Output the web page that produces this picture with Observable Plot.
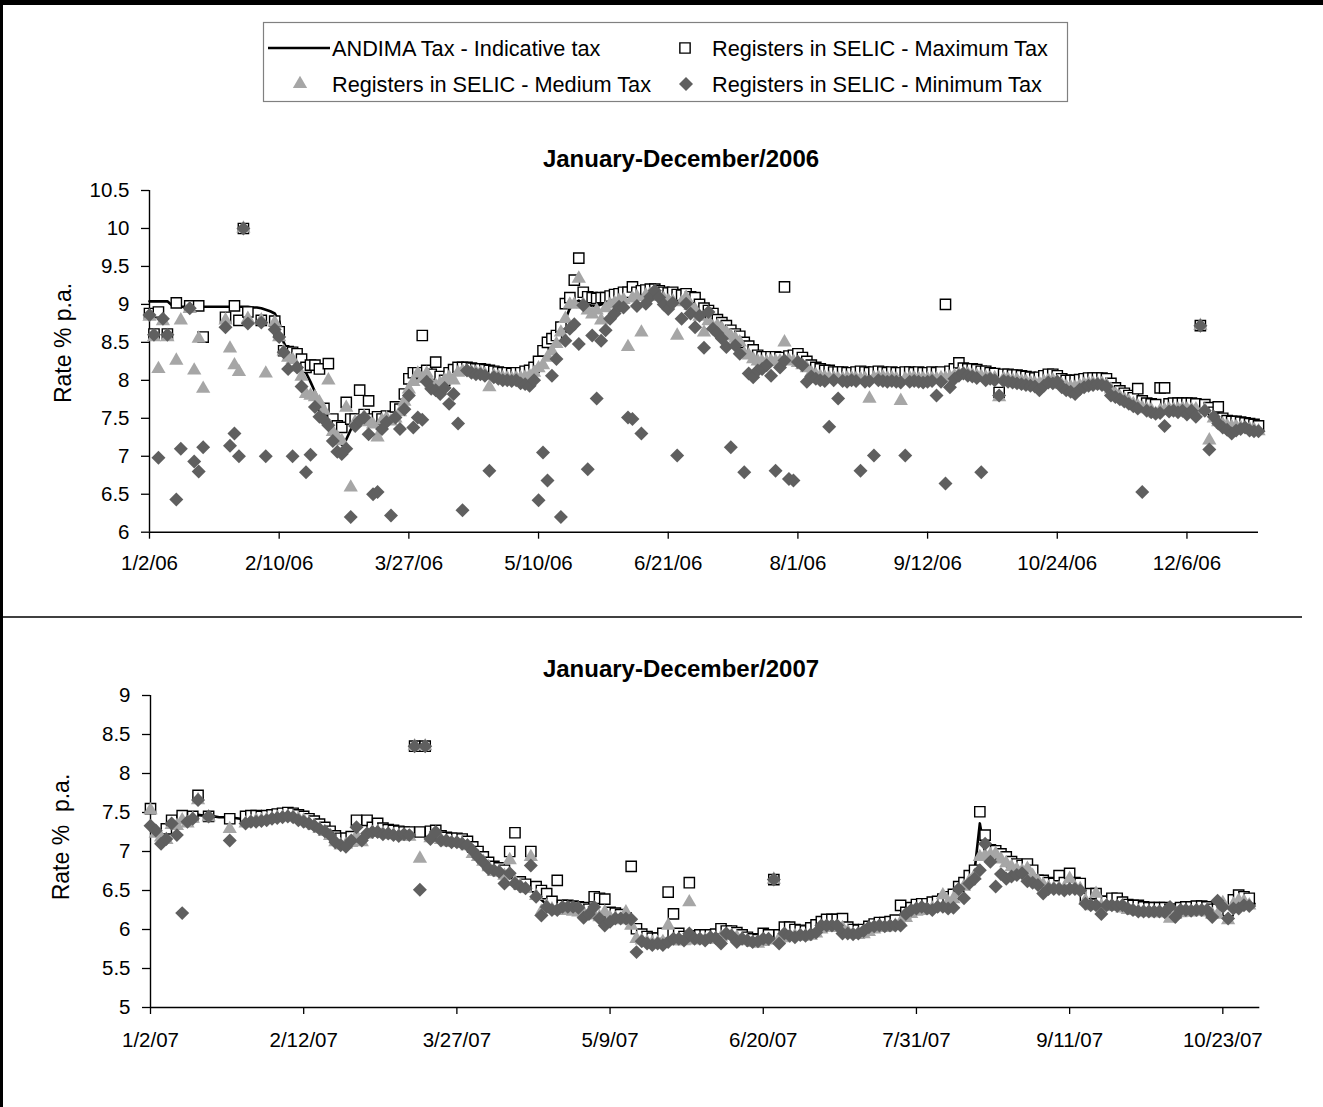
<!DOCTYPE html>
<html><head><meta charset="utf-8">
<script src="https://cdn.jsdelivr.net/npm/d3@7"></script>
<script src="https://cdn.jsdelivr.net/npm/@observablehq/plot@0.6"></script>
<style>
body{margin:0;background:#fff;}
#page{position:relative;width:1323px;height:1107px;overflow:hidden;background:#fff;font-family:"Liberation Sans",Arial,sans-serif;}
</style></head>
<body><div id="page"></div>
<script>
// ---------- DATA ----------
const tickStep = 29; // trading days between labelled ticks
const xLabels2006 = ["1/2/06","2/10/06","3/27/06","5/10/06","6/21/06","8/1/06","9/12/06","10/24/06","12/6/06"];
const xLabels2007 = ["1/2/07","2/12/07","3/27/07","5/9/07","6/20/07","7/31/07","9/11/07","10/23/07"];
const yTicks2006 = [6,6.5,7,7.5,8,8.5,9,9.5,10,10.5];
const yTicks2007 = [5,5.5,6,6.5,7,7.5,8,8.5,9];
const seriesNames = ["ANDIMA Tax - Indicative tax","Registers in SELIC - Maximum Tax","Registers in SELIC - Medium Tax","Registers in SELIC - Minimum Tax"];
const titles = ["January-December/2006","January-December/2007"];

const andima2006 = [
9.04,9.04,9.04,9.04,9.04,8.99,8.97,8.97,8.97,8.97,
8.97,8.97,8.97,8.97,8.97,8.97,8.97,8.97,8.97,8.97,
8.97,8.97,8.97,8.96,8.96,8.95,8.93,8.91,8.88,8.78,
8.5,8.38,8.35,8.3,8.22,8.1,7.98,7.85,7.72,7.6,
7.5,7.38,7.25,7.15,7.22,7.35,7.42,7.48,7.5,7.48,
7.45,7.47,7.5,7.52,7.5,7.55,7.62,7.75,7.9,8.0,
8.03,8.02,8.0,7.98,7.95,7.98,8.02,8.06,8.1,8.12,
8.14,8.14,8.13,8.12,8.12,8.1,8.08,8.08,8.07,8.05,
8.05,8.04,8.05,8.05,8.06,8.08,8.12,8.18,8.25,8.32,
8.4,8.5,8.62,8.8,8.95,9.02,9.05,9.02,9.0,8.98,
8.98,9.0,9.02,9.04,9.05,9.08,9.1,9.1,9.12,9.13,
9.14,9.15,9.16,9.15,9.12,9.1,9.08,9.07,9.06,9.05,
9.03,9.0,8.95,8.88,8.84,8.8,8.78,8.74,8.7,8.65,
8.6,8.57,8.52,8.45,8.36,8.3,8.27,8.26,8.26,8.27,
8.27,8.27,8.27,8.28,8.27,8.25,8.22,8.18,8.13,8.1,
8.08,8.06,8.05,8.05,8.04,8.04,8.05,8.05,8.04,8.04,
8.04,8.05,8.05,8.06,8.06,8.05,8.05,8.04,8.04,8.04,
8.05,8.05,8.04,8.04,8.04,8.04,8.04,8.05,8.05,8.06,
8.08,8.1,8.11,8.1,8.09,8.08,8.07,8.06,8.05,8.05,
8.04,8.04,8.03,8.02,8.02,8.01,8.0,7.99,7.98,7.98,
8.0,8.02,8.02,8.0,7.96,7.94,7.93,7.93,7.95,7.97,
7.98,7.98,7.98,7.98,7.96,7.9,7.84,7.8,7.77,7.74,
7.71,7.68,7.66,7.64,7.63,7.62,7.62,7.63,7.64,7.64,
7.64,7.65,7.64,7.64,7.64,7.65,7.63,7.58,7.52,7.47,
7.44,7.42,7.41,7.41,7.4,7.39,7.38,7.37,7.35];

const max2006 = [
8.88,8.61,8.9,null,8.61,null,9.02,null,null,8.98,
null,8.98,8.57,null,null,null,null,8.83,null,8.98,
8.79,10.0,8.9,null,null,8.79,null,null,8.78,8.64,
8.39,8.38,8.37,8.35,8.28,8.17,8.2,8.2,8.15,7.63,
8.22,7.49,7.4,7.38,7.71,7.49,7.49,7.87,7.55,7.73,
7.49,7.52,7.49,7.53,7.52,7.65,7.62,7.82,8.02,8.1,
8.1,8.59,8.13,8.08,8.24,8.05,8.0,8.1,8.14,8.17,
8.17,8.17,8.16,8.15,8.15,8.14,8.13,8.12,8.11,8.1,
8.1,8.09,8.1,8.1,8.12,8.13,8.17,8.25,8.39,8.5,
8.55,8.59,8.7,9.01,9.09,9.32,9.61,9.16,9.1,9.09,
9.08,9.09,9.09,9.11,9.13,9.14,9.16,9.16,9.23,9.16,
9.18,9.19,9.2,9.2,9.18,9.16,9.15,9.16,9.13,9.12,
9.14,9.1,9.09,9.0,8.95,8.92,8.88,8.8,8.76,8.72,
8.66,8.61,8.58,8.5,8.45,8.4,8.33,8.31,8.31,8.31,
8.31,8.3,9.23,8.32,8.33,8.35,8.3,8.25,8.2,8.17,
8.15,8.13,8.13,8.11,8.11,8.11,8.1,8.1,8.11,8.12,
8.11,8.1,8.11,8.12,8.11,8.1,8.11,8.1,8.1,8.11,
8.11,8.1,8.11,8.1,8.1,8.11,8.1,8.11,9.0,8.12,
8.15,8.23,8.16,8.15,8.15,8.14,8.12,8.12,8.1,8.09,
7.84,8.08,8.08,8.07,8.07,8.06,8.05,8.04,8.03,8.04,
8.06,8.08,8.08,8.06,8.02,8.0,8.0,8.0,8.01,8.02,
8.03,8.03,8.03,8.03,8.02,7.96,7.9,7.86,7.83,7.8,
7.77,7.89,7.73,7.7,7.69,7.68,7.9,7.9,7.69,7.7,
7.7,7.7,7.7,7.7,7.69,8.72,7.68,7.64,7.58,7.65,
7.5,7.47,7.46,7.46,7.45,7.44,7.43,7.42,7.4];

const med2006 = [
8.84,8.57,8.15,8.78,8.57,null,8.26,8.79,null,8.94,
8.13,8.55,7.89,null,null,null,null,8.79,8.42,8.2,
8.11,10.0,8.81,null,null,8.79,8.09,null,8.76,8.57,
8.38,8.3,8.27,8.17,8.05,7.82,7.8,7.78,7.71,7.6,
8.0,7.32,7.25,7.2,7.64,6.59,7.45,7.47,7.52,7.45,
7.42,7.25,7.47,7.5,7.46,7.5,7.58,7.72,7.88,7.98,
8.09,8.02,8.09,7.96,7.93,7.96,8.0,8.04,8.0,8.1,
8.12,8.12,8.11,8.1,8.1,8.08,7.91,8.06,8.05,8.03,
8.03,8.02,8.03,8.03,8.04,8.06,8.1,8.16,8.2,8.3,
8.38,8.48,8.63,8.81,9.0,9.0,9.34,9.0,8.92,8.87,
8.92,8.79,8.95,9.0,9.02,9.05,9.06,8.44,9.08,9.1,
8.63,9.12,9.14,9.12,9.1,9.07,9.05,9.04,8.59,9.03,
9.09,8.98,8.93,8.84,8.63,8.78,8.7,8.72,8.68,8.63,
8.58,8.55,8.5,8.35,8.33,8.28,8.25,8.24,8.24,8.25,
8.25,8.25,8.5,8.26,8.25,8.23,8.2,8.16,8.1,8.07,
8.05,8.04,8.03,8.03,8.02,8.02,8.03,8.03,8.02,8.02,
8.02,7.76,8.03,8.04,8.04,8.03,8.03,8.02,7.73,8.02,
8.03,8.03,8.02,8.02,8.02,8.02,8.02,8.03,8.03,8.04,
8.06,8.08,8.09,8.08,8.07,8.06,8.05,8.04,8.03,8.03,
7.78,8.02,8.01,8.0,8.0,7.99,7.98,7.97,7.96,7.96,
7.98,8.0,8.0,7.98,7.94,7.92,7.91,7.91,7.93,7.95,
7.96,7.96,7.96,7.96,7.94,7.88,7.82,7.78,7.75,7.72,
7.69,7.66,7.64,7.62,7.61,7.56,7.6,7.61,7.62,7.62,
7.62,7.63,7.62,7.62,7.62,8.72,7.61,7.21,7.5,7.45,
7.42,7.4,7.39,7.39,7.38,7.37,7.36,7.35,7.33];

const min2006 = [
8.86,8.6,6.98,8.81,8.6,null,6.43,7.1,null,8.95,
6.93,6.8,7.12,null,null,null,null,8.7,7.14,7.3,
7.0,10.0,8.75,null,null,8.76,7.0,null,8.67,8.57,
8.37,8.15,7.0,8.17,7.92,6.79,7.02,7.65,7.52,7.48,
7.41,7.2,7.06,7.03,7.1,6.2,7.4,7.47,7.51,7.29,
6.5,6.53,7.36,7.45,6.22,7.51,7.36,7.62,7.8,7.38,
7.51,7.48,7.98,7.89,7.87,7.82,7.9,7.69,7.82,7.43,
6.29,8.13,8.1,8.08,8.08,8.06,6.81,8.04,8.02,8.0,
8.0,7.99,8.0,7.96,7.95,7.93,8.0,6.42,7.05,6.68,
8.06,8.28,6.2,8.52,8.68,8.74,8.48,8.99,6.83,8.59,
7.76,8.52,8.66,8.81,8.88,8.97,8.96,7.51,7.49,8.98,
7.3,9.01,9.1,9.18,9.09,9.0,8.94,9.02,7.01,8.81,
9.01,8.88,8.7,8.85,8.43,8.9,8.68,8.62,8.55,8.44,
7.12,8.46,8.35,6.79,8.09,8.04,8.13,8.15,8.2,8.06,
6.81,8.17,8.26,6.7,6.68,8.24,8.2,7.98,8.05,8.02,
8.0,7.99,7.39,8.0,7.76,7.99,7.98,8.0,7.99,6.81,
7.98,7.99,7.01,8.0,7.99,7.98,7.99,7.98,7.97,7.01,
7.98,7.99,7.98,7.97,7.98,7.99,7.8,7.98,6.64,7.91,
8.02,8.06,8.09,8.06,8.05,8.03,6.79,8.0,8.02,8.0,
7.8,7.99,7.98,7.97,7.96,7.95,7.94,7.93,7.92,7.87,
7.93,7.97,7.96,7.98,7.91,7.87,7.85,7.82,7.88,7.91,
7.93,7.94,7.95,7.94,7.92,7.8,7.78,7.75,7.72,7.69,
7.66,7.63,6.53,7.6,7.58,7.56,7.57,7.4,7.59,7.6,
7.58,7.6,7.55,7.6,7.52,8.72,7.6,7.09,7.52,7.43,
7.38,7.35,7.3,7.34,7.36,7.38,7.34,7.33,7.33];

const andima2007 = [
7.38,7.3,7.22,7.2,7.3,7.4,7.45,7.46,7.46,7.47,
7.46,7.45,7.45,7.44,7.44,7.43,7.43,7.42,7.42,7.42,
7.42,7.42,7.43,7.44,7.45,7.46,7.46,7.45,7.43,7.41,
7.38,7.35,7.31,7.27,7.22,7.15,7.12,7.12,7.14,7.2,
7.23,7.26,7.28,7.29,7.27,7.25,7.24,7.23,7.22,7.22,
7.23,7.24,7.24,7.23,7.2,7.17,7.15,7.14,7.14,7.13,
7.1,7.04,6.97,6.9,6.83,6.78,6.76,6.72,6.68,6.63,
6.58,6.55,6.5,6.45,6.38,6.32,6.28,6.27,6.27,6.27,
6.26,6.25,6.24,6.22,6.2,6.18,6.17,6.17,6.16,6.14,
6.1,6.02,5.95,5.9,5.87,5.85,5.85,5.86,5.88,5.88,
5.87,5.87,5.88,5.9,5.9,5.9,5.9,5.91,5.93,5.95,
5.95,5.93,5.9,5.87,5.85,5.84,5.86,5.88,5.89,5.9,
5.92,5.94,5.95,5.95,5.94,5.94,5.98,6.03,6.05,6.05,
6.06,6.05,6.0,5.97,5.96,5.97,6.0,6.03,6.05,6.05,
6.06,6.08,6.12,6.18,6.23,6.26,6.27,6.28,6.3,6.32,
6.35,6.38,6.42,6.5,6.58,6.65,6.75,7.36,6.97,6.99,
6.97,6.9,6.86,6.82,6.78,6.81,6.74,6.65,6.58,6.55,
6.55,6.56,6.56,6.56,6.57,6.57,6.55,6.4,6.33,6.33,
6.33,6.33,6.32,6.32,6.3,6.28,6.27,6.26,6.25,6.25,
6.24,6.24,6.24,6.22,6.22,6.24,6.25,6.25,6.26,6.26,
6.25,6.22,6.22,6.2,6.2,6.35,6.4,6.38,6.34,6.33];

const max2007 = [
7.55,null,null,7.29,7.4,null,7.46,null,7.45,7.72,
null,7.45,null,null,null,7.42,null,null,7.45,7.46,
7.46,7.45,7.46,7.47,7.48,7.49,7.5,7.49,7.47,7.45,
7.42,7.39,7.35,7.31,7.26,7.2,7.17,7.17,7.19,7.4,
7.27,7.4,7.31,7.36,7.3,7.28,7.27,7.26,7.25,7.25,
8.35,7.25,8.35,7.26,7.27,7.2,7.18,7.17,7.17,7.16,
7.13,7.06,7.0,6.93,6.86,6.81,6.79,6.76,7.0,7.24,
6.61,6.58,7.0,6.55,6.5,6.46,6.36,6.63,6.31,6.31,
6.3,6.29,6.28,6.26,6.42,6.4,6.39,6.22,6.21,6.19,
6.15,6.81,6.01,5.94,5.91,5.89,5.89,5.95,6.48,6.2,
5.95,5.91,6.6,5.92,5.93,5.93,5.93,5.94,6.01,5.98,
5.98,5.96,5.93,5.9,5.88,5.87,5.95,5.93,6.64,5.93,
6.03,6.03,6.0,5.99,5.98,6.02,6.06,6.1,6.13,6.13,
6.13,6.14,6.03,6.0,5.99,6.0,6.04,6.07,6.09,6.09,
6.1,6.12,6.31,6.22,6.28,6.32,6.33,6.33,6.35,6.36,
6.39,6.42,6.45,6.55,6.6,6.69,6.76,7.51,7.21,7.02,
7.01,6.97,6.93,6.87,6.84,6.82,6.84,6.76,6.63,6.63,
6.6,6.59,6.69,6.6,6.72,6.6,6.59,6.4,6.46,6.46,
6.36,6.36,6.4,6.4,6.35,6.32,6.31,6.31,6.29,6.28,
6.28,6.28,6.28,6.26,6.26,6.28,6.29,6.29,6.3,6.3,
6.29,6.26,6.26,6.24,6.24,6.38,6.44,6.42,6.4,null];

const med2007 = [
7.53,7.23,7.18,7.15,7.34,7.33,7.4,7.36,7.42,7.66,
null,7.44,null,null,null,7.29,null,null,7.36,7.38,
7.4,7.4,7.41,7.42,7.43,7.44,7.45,7.44,7.42,7.4,
7.36,7.33,7.29,7.25,7.2,7.12,7.08,7.09,7.11,7.2,
7.12,7.22,7.24,7.25,7.23,7.22,7.21,7.2,7.19,7.19,
8.35,6.91,8.35,7.17,7.2,7.15,7.12,7.11,7.11,7.1,
7.07,6.97,6.93,6.87,6.8,6.74,6.73,6.69,6.89,6.61,
6.56,6.52,6.93,6.43,6.23,6.3,6.26,6.24,6.25,6.24,
6.23,6.22,6.21,6.2,6.18,6.16,6.22,6.15,6.14,6.12,
6.22,6.05,5.88,5.86,5.84,5.83,5.83,5.84,6.05,5.85,
5.85,5.85,6.35,5.86,5.87,5.87,5.87,5.88,5.9,5.92,
5.92,5.9,5.87,5.85,5.83,5.82,5.84,5.86,6.64,5.88,
5.89,5.91,5.92,5.92,5.91,5.92,5.95,6.0,6.02,6.02,
6.03,6.02,5.97,5.94,5.93,5.94,5.97,6.0,6.02,6.02,
6.03,6.05,6.09,6.15,6.2,6.23,6.24,6.25,6.27,6.29,
6.44,6.35,6.39,6.47,6.55,6.62,6.69,6.93,6.95,6.96,
6.97,6.9,6.85,6.8,6.77,6.75,6.78,6.69,6.62,6.57,
6.54,6.53,6.53,6.53,6.65,6.54,6.52,6.37,6.3,6.46,
6.3,6.3,6.29,6.29,6.27,6.25,6.24,6.23,6.22,6.22,
6.21,6.21,6.21,6.14,6.19,6.21,6.22,6.22,6.23,6.23,
6.22,6.19,6.19,6.34,6.12,6.32,6.37,6.36,6.31,null];

const min2007 = [
7.33,7.27,7.1,7.16,7.36,7.21,6.21,7.38,7.42,7.66,
null,7.45,null,null,null,7.14,null,null,7.36,7.38,
7.38,7.39,7.4,7.42,7.43,7.44,7.45,7.44,7.4,7.38,
7.36,7.33,7.29,7.26,7.21,7.12,7.08,7.06,7.14,7.31,
7.14,7.23,7.25,7.25,7.22,7.23,7.21,7.2,7.22,7.21,
8.35,6.51,8.35,7.16,7.25,7.14,7.14,7.12,7.12,7.1,
7.08,7.01,6.93,6.86,6.78,6.76,6.74,6.59,6.72,6.59,
6.55,6.53,6.82,6.42,6.18,6.29,6.25,6.25,6.29,6.29,
6.29,6.28,6.15,6.2,6.29,6.14,6.05,6.1,6.14,6.14,
6.14,6.13,5.71,5.85,5.82,5.8,5.82,5.8,5.84,5.88,
5.88,5.86,5.95,5.88,5.88,5.86,5.9,5.89,5.82,5.95,
5.92,5.84,5.88,5.86,5.84,5.85,5.88,5.88,6.64,5.82,
5.95,5.92,5.9,5.93,5.92,5.94,5.96,6.05,6.05,6.05,
6.05,5.95,5.95,5.94,5.95,5.98,6.03,6.04,6.05,6.04,
6.05,6.05,6.05,6.2,6.25,6.27,6.29,6.27,6.25,6.29,
6.29,6.27,6.28,6.52,6.4,6.59,6.65,6.76,7.1,6.87,
6.55,6.71,6.65,6.68,6.7,6.72,6.62,6.6,6.57,6.46,
6.52,6.52,6.52,6.5,6.52,6.52,6.5,6.33,6.31,6.31,
6.2,6.31,6.31,6.3,6.31,6.27,6.25,6.23,6.23,6.23,
6.23,6.23,6.22,6.29,6.16,6.25,6.25,6.24,6.25,6.25,
6.25,6.16,6.37,6.29,6.14,6.27,6.27,6.31,6.3,null];

// ---------- STYLE ----------
const FONT = '"Liberation Sans", Arial, sans-serif';
const C_LINE = "#000", C_MED = "#a6a6a6", C_MIN = "#5f5f5f";
const R_SQ = 5.8, R_TRI = 5.3, R_DIA = 6.3;

function rows(arr){ return arr.map((v,i)=>({i, v})).filter(d => d.v != null); }

function panel(cfg){
  const tickIdx = cfg.labels.map((_,k)=>k*tickStep);
  const p = Plot.plot({
    width: 1323, height: cfg.height,
    marginLeft: cfg.ml, marginRight: cfg.mr, marginTop: cfg.mt, marginBottom: cfg.mb,
    x: {type:"linear", domain: cfg.xdom},
    y: {type:"linear", domain: [cfg.yTicks[0], cfg.yTicks[cfg.yTicks.length-1]]},
    style: {fontFamily: FONT, fontSize: "20.5px", color: "#000", background: "transparent", overflow: "visible"},
    marks: [
      Plot.axisX({ticks: tickIdx, tickFormat: d => cfg.labels[Math.round(d/tickStep)], tickSize: 7, tickPadding: cfg.xpad, label: null, stroke:"#000", strokeWidth: 1.3}),
      Plot.axisY({ticks: cfg.yTicks, tickFormat: d => String(d), tickSize: 8, tickPadding: 12, label: null, stroke:"#000", strokeWidth: 1.3}),
      Plot.ruleX([cfg.xdom[0]], {stroke:"#000", strokeWidth:1.4}),
      Plot.ruleY([cfg.yTicks[0]], {stroke:"#000", strokeWidth:1.4}),
      Plot.line(rows(cfg.line), {x:"i", y:"v", stroke:C_LINE, strokeWidth:2.6, curve:"linear"}),
      Plot.dot(rows(cfg.max), {x:"i", y:"v", symbol:"square", r:R_SQ, fill:"#fff", stroke:"#000", strokeWidth:1.4}),
      Plot.dot(rows(cfg.med), {x:"i", y:"v", symbol:"triangle", r:R_TRI, fill:C_MED, stroke:"none"}),
      Plot.dot(rows(cfg.min), {x:"i", y:"v", symbol:"diamond2", r:R_DIA, fill:C_MIN, stroke:"none"})
    ]
  });
  p.style.position = "absolute";
  p.style.left = "0px";
  p.style.top = cfg.top + "px";
  return p;
}

const page = document.getElementById("page");
page.appendChild(panel({top:150, height:440, ml:149, mr:65, mt:40, mb:58.3, xdom:[0,248], labels:xLabels2006, yTicks:yTicks2006, xpad:16,
  line:andima2006, max:max2006, med:med2006, min:min2006}));
page.appendChild(panel({top:660, height:420, ml:150, mr:63.7, mt:35, mb:73, xdom:[0,210], labels:xLabels2007, yTicks:yTicks2007, xpad:18,
  line:andima2007, max:max2007, med:med2007, min:min2007}));

// ---------- OVERLAY: frame, titles, axis titles, legend ----------
const ov = d3.select(page).append("svg")
  .attr("width",1323).attr("height",1107)
  .style("position","absolute").style("left","0px").style("top","0px")
  .style("font-family", FONT);

ov.append("rect").attr("x",0).attr("y",0).attr("width",1323).attr("height",5).attr("fill","#000");
ov.append("rect").attr("x",0).attr("y",0).attr("width",3).attr("height",1107).attr("fill","#000");
ov.append("line").attr("x1",0).attr("x2",1302).attr("y1",617).attr("y2",617).attr("stroke","#000").attr("stroke-width",1.6);

[[titles[0],166.5],[titles[1],676.5]].forEach(([t,y]) => {
  ov.append("text").attr("x",681).attr("y",y).attr("text-anchor","middle")
    .attr("font-weight","bold").attr("font-size",24).text(t);
});
ov.append("text").attr("transform","translate(71,343) rotate(-90)").attr("text-anchor","middle").attr("font-size",23).text("Rate % p.a.");
ov.append("text").attr("transform","translate(69,837) rotate(-90)").attr("text-anchor","middle").attr("font-size",23).text("Rate % \u00a0p.a.");

// legend
const lg = ov.append("g");
lg.append("rect").attr("x",263.5).attr("y",22.5).attr("width",804).attr("height",79).attr("fill","#fff").attr("stroke","#808080").attr("stroke-width",1.2);
const r1 = 48, r2 = 84, fs = 21.7;
lg.append("line").attr("x1",268).attr("x2",330).attr("y1",r1).attr("y2",r1).attr("stroke","#000").attr("stroke-width",2.6);
lg.append("text").attr("x",332).attr("y",r1+7.5).attr("font-size",fs).text(seriesNames[0]);
lg.append("path").attr("d",d3.symbol(d3.symbolSquare, Math.PI*R_SQ*R_SQ)()).attr("transform",`translate(685,${r1})`).attr("fill","#fff").attr("stroke","#000").attr("stroke-width",1.4);
lg.append("text").attr("x",712).attr("y",r1+7.5).attr("font-size",fs).text(seriesNames[1]);
lg.append("path").attr("d",d3.symbol(d3.symbolTriangle, Math.PI*R_TRI*R_TRI)()).attr("transform",`translate(300,${r2})`).attr("fill",C_MED);
lg.append("text").attr("x",332).attr("y",r2+7.5).attr("font-size",fs).text(seriesNames[2]);
lg.append("path").attr("d",d3.symbol(d3.symbolDiamond2, Math.PI*R_DIA*R_DIA)()).attr("transform",`translate(686,${r2})`).attr("fill",C_MIN);
lg.append("text").attr("x",712).attr("y",r2+7.5).attr("font-size",fs).text(seriesNames[3]);
</script>
</body></html>
